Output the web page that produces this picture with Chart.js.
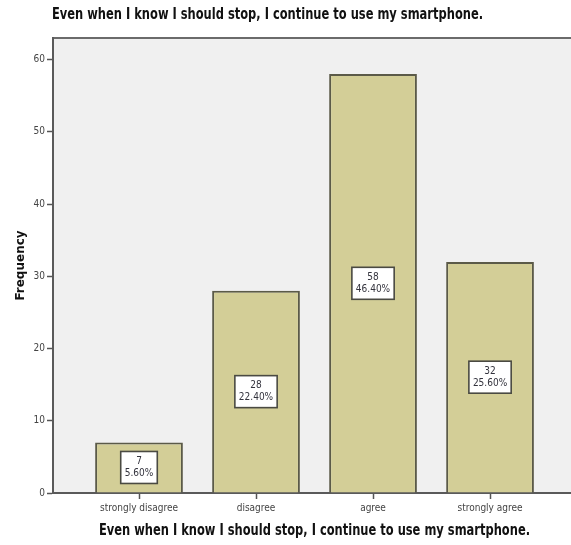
<!DOCTYPE html>
<html>
<head>
<meta charset="utf-8">
<script src="https://cdn.jsdelivr.net/npm/chart.js@4.4.1/dist/chart.umd.min.js"></script>
<style>
  html, body { margin: 0; padding: 0; background: #ffffff; }
  #wrap { width: 571px; height: 545px; position: relative; }
</style>
</head>
<body>
<div id="wrap"><canvas id="freqChart" width="571" height="545"></canvas></div>
<script>
// --- Data ---
const chartTitle = 'Even when I know I should stop, I continue to use my smartphone.';
const categories = ['strongly disagree', 'disagree', 'agree', 'strongly agree'];
const frequencies = [7, 28, 58, 32];
const yTicks = [0, 10, 20, 30, 40, 50, 60];

const total = frequencies.reduce((a, b) => a + b, 0);
const narrow = "'Liberation Sans Narrow', 'Arial Narrow', 'DejaVu Sans Condensed', sans-serif";

// condensed bold heading: squeeze a 15px face horizontally
function drawHeading(ctx, text, x, y, align) {
    const squeeze = 0.85;
    ctx.save();
    ctx.font = 'bold 15px ' + narrow;
    ctx.fillStyle = '#111111';
    ctx.textAlign = align;
    ctx.textBaseline = 'middle';
    ctx.translate(x, y);
    ctx.scale(squeeze, 1);
    ctx.fillText(text, 0, 0);
    ctx.restore();
}

// --- Plot panel background, top frame line, headings ---
const panelPlugin = {
    id: 'panel',
    beforeDraw(chart) {
        const { ctx, chartArea: a } = chart;
        ctx.save();
        ctx.fillStyle = '#f0f0f0';
        ctx.fillRect(a.left, a.top, a.right - a.left, a.bottom - a.top);
        ctx.strokeStyle = '#6b6b6b';
        ctx.lineWidth = 2;
        ctx.beginPath();
        ctx.moveTo(a.left, a.top);
        ctx.lineTo(a.right, a.top);
        ctx.stroke();
        ctx.restore();
    },
    afterDraw(chart) {
        const { ctx } = chart;
        const xs = chart.scales.x;
        // top heading sits flush with the left edge of the plot
        drawHeading(ctx, chartTitle, 52, 15, 'left');
        // axis heading centred under the category ticks
        const mid = (xs.getPixelForValue(0) + xs.getPixelForValue(categories.length - 1)) / 2;
        drawHeading(ctx, chartTitle, mid, 531, 'center');
    }
};

// --- Count / percent boxes in the middle of each bar ---
const boxLabelPlugin = {
    id: 'boxLabels',
    afterDatasetsDraw(chart) {
        const { ctx } = chart;
        const meta = chart.getDatasetMeta(0);
        ctx.save();
        ctx.font = '10px ' + narrow;
        ctx.textAlign = 'center';
        ctx.textBaseline = 'middle';
        meta.data.forEach((bar, i) => {
            const v = frequencies[i];
            const line1 = String(v);
            const line2 = (v / total * 100).toFixed(2) + '%';
            const w = Math.max(ctx.measureText(line1).width, ctx.measureText(line2).width) + 8;
            const h = 32;
            const cx = bar.x;
            const cy = (bar.y + bar.base) / 2;
            ctx.fillStyle = '#ffffff';
            ctx.fillRect(cx - w / 2, cy - h / 2, w, h);
            ctx.strokeStyle = '#4a4a42';
            ctx.lineWidth = 1.6;
            ctx.strokeRect(cx - w / 2, cy - h / 2, w, h);
            ctx.fillStyle = '#33333d';
            ctx.fillText(line1, cx, cy - 6);
            ctx.fillText(line2, cx, cy + 6);
        });
        ctx.restore();
    }
};

const chart = new Chart(document.getElementById('freqChart').getContext('2d'), {
    type: 'bar',
    data: {
        datasets: [{
            label: 'Frequency',
            data: frequencies.map((v, i) => ({ x: i, y: v })),
            backgroundColor: '#d3ce97',
            borderColor: '#5b5a48',
            borderWidth: 2,
            borderSkipped: 'bottom',
            barPercentage: 0.75,
            categoryPercentage: 1.0
        }]
    },
    plugins: [panelPlugin, boxLabelPlugin],
    options: {
        responsive: false,
        animation: false,
        layout: { padding: { top: 38, right: 0, bottom: 0, left: 0 } },
        plugins: {
            legend: { display: false },
            tooltip: { enabled: false },
            title: { display: false }
        },
        scales: {
            x: {
                type: 'linear',
                offset: false,
                min: -0.735,
                max: 3.692,
                afterBuildTicks(scale) {
                    scale.ticks = categories.map((_, i) => ({ value: i }));
                },
                afterFit(scale) { scale.height = 52; },
                grid: {
                    display: true,
                    offset: false,
                    drawOnChartArea: false,
                    drawTicks: true,
                    tickLength: 6,
                    tickColor: '#555555',
                    tickWidth: 1.5
                },
                border: { display: true, color: '#5a5a5a', width: 2 },
                ticks: {
                    callback: (v) => categories[v],
                    color: '#444444',
                    font: { family: narrow, size: 10 },
                    padding: 3,
                    maxRotation: 0,
                    autoSkip: false
                }
            },
            y: {
                min: 0,
                max: 63,
                afterBuildTicks(scale) {
                    scale.ticks = yTicks.map((v) => ({ value: v }));
                },
                afterFit(scale) { scale.width = 53; },
                grid: {
                    display: true,
                    drawOnChartArea: false,
                    drawTicks: true,
                    tickLength: 6,
                    tickColor: '#555555',
                    tickWidth: 1.5
                },
                border: { display: true, color: '#5a5a5a', width: 2 },
                ticks: {
                    color: '#444444',
                    font: { family: narrow, size: 10 },
                    padding: 2
                },
                title: {
                    display: true,
                    text: 'Frequency',
                    color: '#111111',
                    font: { family: "'DejaVu Sans', sans-serif", size: 12, weight: 'bold' },
                    padding: { top: 14, bottom: 0 }
                }
            }
        }
    }
});
</script>
</body>
</html>
